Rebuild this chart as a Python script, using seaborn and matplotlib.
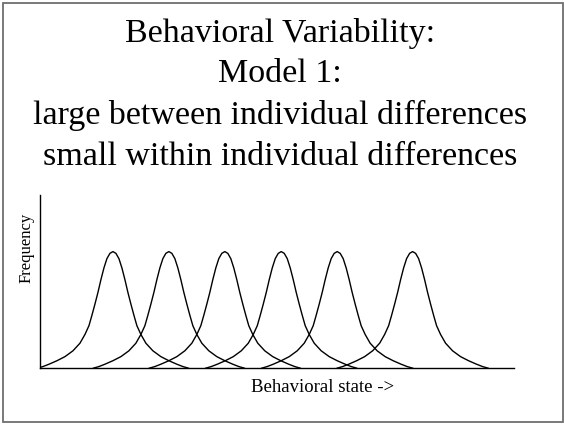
import pandas as pd
import seaborn as sns
import matplotlib.pyplot as plt
from matplotlib.patches import Rectangle

# Peak positions of the six individuals (behavioral state units, axis runs 0..474)
centers = [73, 129, 185, 241.5, 297.5, 373]
individuals = ['A', 'B', 'C', 'D', 'E', 'F']

# Shape of one curve: distance from the peak and relative height
offsets = [0, 3, 6, 9, 12, 15, 18, 21, 24, 28, 33, 40, 48, 56, 64, 70, 76]
heights = [1.0, 0.985, 0.94, 0.86, 0.76, 0.65, 0.55, 0.455, 0.365, 0.29,
           0.215, 0.15, 0.10, 0.065, 0.035, 0.015, 0.0]

title_lines = ['Behavioral Variability:', 'Model 1:',
               'large between individual differences',
               'small within individual differences']

# Build long table: each curve is the profile mirrored around its center
rows = []
for name, c in zip(individuals, centers):
    xs = [c - o for o in offsets[::-1]] + [c + o for o in offsets[1:]]
    ys = heights[::-1] + heights[1:]
    for x, y in zip(xs, ys):
        rows.append({'individual': name, 'state': x, 'frequency': y})
df = pd.DataFrame(rows)

sns.set_style('white')
plt.rcParams['font.family'] = ['Liberation Serif', 'DejaVu Serif']
plt.rcParams['text.color'] = 'black'
plt.rcParams['axes.labelcolor'] = 'black'

fig = plt.figure(figsize=(5.64, 4.24), dpi=100)
ax = fig.add_axes([40 / 564, 1 - 368.3 / 424, 473.5 / 564, 173.3 / 424])

sns.lineplot(data=df, x='state', y='frequency', hue='individual',
             palette=['black'] * len(centers), sort=False, estimator=None,
             legend=False, lw=1.0, ax=ax)

ax.set_xlim(0, 474)
ax.set_ylim(0, 1.485)
ax.set_xticks([])
ax.set_yticks([])
for side in ['top', 'right']:
    ax.spines[side].set_visible(False)
for side in ['left', 'bottom']:
    ax.spines[side].set_color('black')
    ax.spines[side].set_linewidth(1.0)

ax.set_xlabel('Behavioral state ->', fontsize=13.5, va='baseline', ha='center')
ax.xaxis.set_label_coords(0.597, -0.1385)
ax.set_ylabel('Frequency', fontsize=12, va='center', ha='center')
ax.yaxis.set_label_coords(-0.028, 0.694)

# Title, one line at a time at the measured baselines
baselines = [41.7, 82.5, 123.7, 165.0]
for line, b in zip(title_lines, baselines):
    fig.text(0.497, 1 - b / 424, line, fontsize=24.5, ha='center', va='baseline')

# Slide frame
fig.patches.append(Rectangle((2.7 / 564, 1.7 / 424), 559.8 / 564, 419.6 / 424,
                             transform=fig.transFigure, fill=False,
                             edgecolor='#6e6e6e', lw=1.3))

fig.savefig('out.png', dpi=100)
